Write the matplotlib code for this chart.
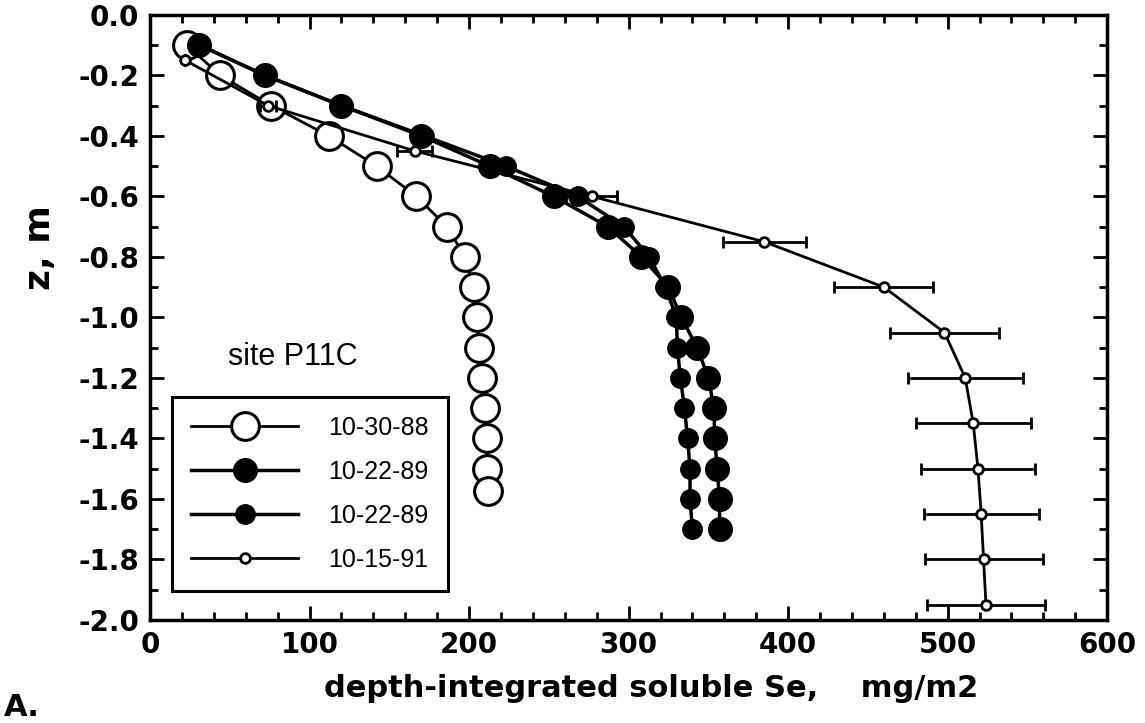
import numpy as np
import matplotlib.pyplot as plt
from matplotlib.ticker import MultipleLocator
from matplotlib.lines import Line2D

"""
Depth-integrated soluble Se profiles, site P11C
"""

# 10-30-88 (large open circles)
z_88 = [-0.1, -0.2, -0.3, -0.4, -0.5, -0.6, -0.7, -0.8, -0.9, -1.0,
        -1.1, -1.2, -1.3, -1.4, -1.5, -1.575]
se_88 = [23, 44, 76, 112, 142, 167, 186, 197.5, 203, 205,
         206.5, 208, 210, 211, 211.5, 212]

# 10-22-89 (two filled series)
z_89 = [-0.1, -0.2, -0.3, -0.4, -0.5, -0.6, -0.7, -0.8, -0.9, -1.0,
        -1.1, -1.2, -1.3, -1.4, -1.5, -1.6, -1.7]
se_89a = [31, 72, 120, 170, 213, 253, 287, 308, 325, 333,
          343, 350, 353.5, 354, 355.5, 357, 357]
se_89b = [31, 72, 120, 172, 223, 268, 297, 313, 323, 330,
          330.5, 332.5, 335, 337, 338.5, 338.5, 340]

# 10-15-91 (small open circles with error bars)
z_91 = [-0.15, -0.3, -0.45, -0.6, -0.75, -0.9, -1.05, -1.2, -1.35,
        -1.5, -1.65, -1.8, -1.95]
se_91 = [22, 74, 166, 277, 385, 460, 498, 511, 516, 519, 521, 522.5, 524]
err_91 = [0, 5, 11, 16, 26, 31, 34, 36, 36, 36, 36, 37, 37]

labels = ['10-30-88', '10-22-89', '10-22-89', '10-15-91']

plt.rcParams['font.family'] = ['DejaVu Sans']

fig = plt.figure(figsize=(11.45, 7.23), dpi=100)
ax = fig.add_axes([0.131, 0.1425, 0.836, 0.837])

l1, = ax.plot(se_88, z_88, color='black', lw=2, marker='o', ms=20,
              mfc='white', mec='black', mew=2.2, label=labels[0], zorder=3)
l2, = ax.plot(se_89a, z_89, color='black', lw=2.5, marker='o', ms=17,
              mfc='black', mec='black', label=labels[1], zorder=4)
l3, = ax.plot(se_89b, z_89, color='black', lw=2.5, marker='o', ms=14,
              mfc='black', mec='black', label=labels[2], zorder=4)
ax.errorbar(se_91, z_91, xerr=err_91, color='black', lw=2, marker='o',
            ms=7, mfc='white', mec='black', mew=2, capsize=4,
            capthick=2, elinewidth=2, zorder=5)
l4 = Line2D([], [], color='black', lw=2, marker='o', ms=7, mfc='white',
            mec='black', mew=2)

ax.set_xlim(0, 600)
ax.set_ylim(-2.0, 0.0)
ax.xaxis.set_major_locator(MultipleLocator(100))
ax.xaxis.set_minor_locator(MultipleLocator(20))
ax.yaxis.set_major_locator(MultipleLocator(0.2))
ax.yaxis.set_minor_locator(MultipleLocator(0.1))
ax.yaxis.set_major_formatter(plt.FuncFormatter(lambda v, p: '%.1f' % v))
ax.tick_params(which='both', direction='in', top=True, right=True, width=2)
ax.tick_params(which='major', length=10, labelsize=20, pad=8)
ax.tick_params(which='minor', length=6)
for lab in ax.get_xticklabels() + ax.get_yticklabels():
    lab.set_fontweight('bold')
for sp in ax.spines.values():
    sp.set_linewidth(2.5)

leg = ax.legend(handles=[l1, l2, l3, l4], labels=labels, loc='lower left',
                bbox_to_anchor=(0.023, 0.048), borderaxespad=0,
                handlelength=4.3, handletextpad=1.2, labelspacing=0.8,
                borderpad=0.75, fancybox=False, framealpha=1,
                edgecolor='black',
                prop={'family': ['Liberation Sans Narrow', 'Liberation Sans'],
                      'size': 18})
leg.get_frame().set_linewidth(2.2)

ax.text(0.0815, 0.435, 'site P11C', transform=ax.transAxes, va='center',
        ha='left', fontsize=22, family=['Liberation Sans', 'DejaVu Sans'])

fig.text(0.569, 0.048, 'depth-integrated soluble Se,    mg/m2',
         ha='center', va='center', fontsize=22, fontweight='bold')
fig.text(0.035, 0.657, 'z, m', rotation=90, ha='center', va='center',
         fontsize=26, fontweight='bold')
fig.text(0.003, 0.022, 'A.', ha='left', va='center', fontsize=22,
         fontweight='bold')

plt.savefig('out.png', dpi=100)
